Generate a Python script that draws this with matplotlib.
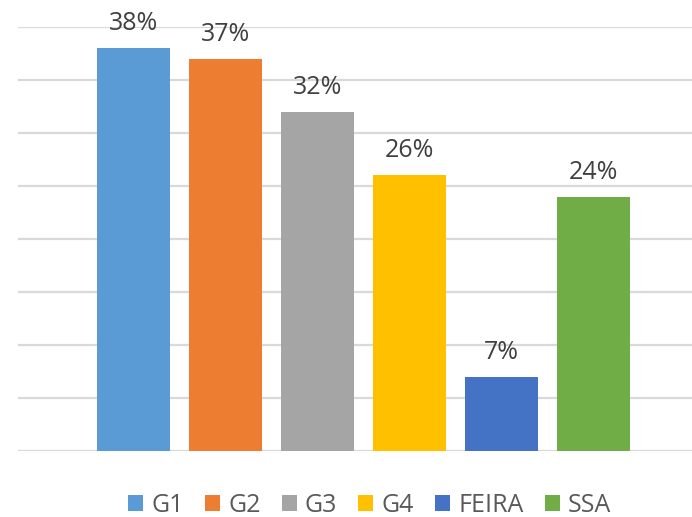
import matplotlib
matplotlib.use("Agg")
import matplotlib.pyplot as plt
from matplotlib.patches import Patch

categories = ["G1", "G2", "G3", "G4", "FEIRA", "SSA"]
values = [38, 37, 32, 26, 7, 24]
colors = ["#5B9BD5", "#ED7D31", "#A5A5A5", "#FFC000", "#4472C4", "#70AD47"]

plt.rcParams["font.family"] = ["Open Sans", "DejaVu Sans"]

fig = plt.figure(figsize=(6.92, 5.17), dpi=100)
ax = fig.add_axes([18 / 692, 66 / 517, 1 - 18 / 692, (451 - 27) / 517])

x = list(range(len(categories)))
bars = ax.bar(x, values, width=0.79, color=colors, zorder=3)

for xi, v in zip(x, values):
    ax.annotate(f"{v}%", (xi, v), xytext=(0, 13), textcoords="offset points",
                ha="center", va="baseline", fontsize=18, color="#404040")

ax.set_xlim(-1.255, 6.07)
ax.set_ylim(0, 40)
ax.set_yticks(range(0, 41, 5))
ax.yaxis.grid(True, color="#D9D9D9", lw=1.6, zorder=0)
ax.tick_params(left=False, bottom=False, labelleft=False, labelbottom=False)
for s in ax.spines.values():
    s.set_visible(False)

handles = [Patch(facecolor=c, label=n) for c, n in zip(colors, categories)]
fig.legend(handles=handles, loc="center", bbox_to_anchor=(0.534, 12 / 517),
           ncol=6, frameon=False, fontsize=18, labelcolor="#595959",
           handlelength=0.6, handleheight=0.6, handletextpad=0.32,
           columnspacing=0.85, borderpad=0)

fig.savefig("out.png", dpi=100)
